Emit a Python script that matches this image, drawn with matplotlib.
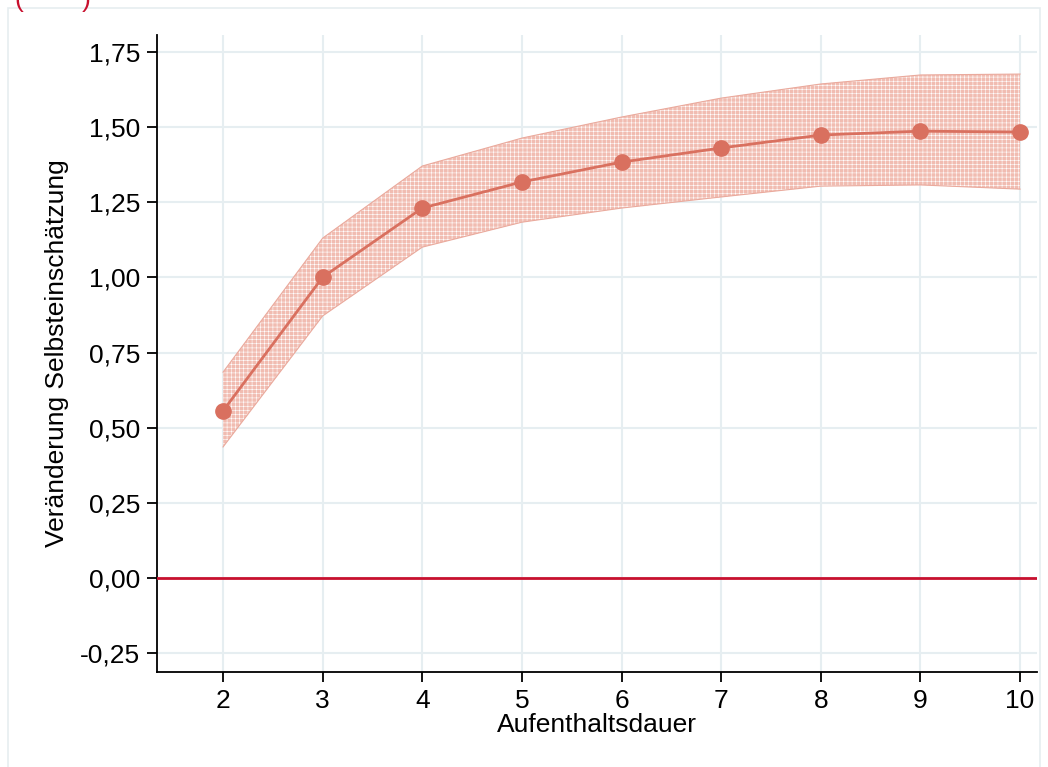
import matplotlib.pyplot as plt
from matplotlib.patches import Rectangle

plt.rcParams['font.family'] = ['Liberation Sans', 'DejaVu Sans']
plt.rcParams['hatch.linewidth'] = 0.4

dauer = [2, 3, 4, 5, 6, 7, 8, 9, 10]
effekt = [0.556, 1.001, 1.231, 1.318, 1.384, 1.431, 1.474, 1.487, 1.484]
ci_oben = [0.685, 1.131, 1.371, 1.464, 1.534, 1.597, 1.644, 1.674, 1.677]
ci_unten = [0.436, 0.872, 1.101, 1.184, 1.231, 1.268, 1.304, 1.308, 1.294]
y_ticks = [-0.25, 0, 0.25, 0.5, 0.75, 1.0, 1.25, 1.5, 1.75]
y_labels = ['-0,25', '0,00', '0,25', '0,50', '0,75', '1,00', '1,25', '1,50', '1,75']

col = '#d9705f'
fs = 19
fig = plt.figure(figsize=(10.48, 7.67), dpi=100)
fig.patches.append(Rectangle((8 / 1048, -0.1), 1032 / 1048, 1 - 8 / 767 + 0.1,
                             transform=fig.transFigure, fill=False,
                             edgecolor='#e6edf0', linewidth=1.2))
# cut-off title in the reference: only the lower ends of the brackets show
fig.text(14 / 1048, 1 - 6.5 / 767, '(', color='#c8102e', fontsize=fs, va='baseline')
fig.text(82 / 1048, 1 - 6.5 / 767, ')', color='#c8102e', fontsize=fs, va='baseline')

ax = fig.add_axes([157 / 1048, 1 - 672 / 767, 880 / 1048, 637 / 767])
ax.fill_between(dauer, ci_unten, ci_oben, facecolor='#f1bcb1',
                edgecolor='#ffffff', hatch='++++', linewidth=0, zorder=2)
ax.plot(dauer, ci_oben, color='#eaaa9d', linewidth=0.8, zorder=2)
ax.plot(dauer, ci_unten, color='#eaaa9d', linewidth=0.8, zorder=2)
ax.plot(dauer, effekt, color=col, linewidth=2, marker='o', markersize=11, zorder=4)
ax.axhline(0, color='#c8102e', linewidth=2, zorder=3)

ax.set_xlim(1.337, 10.17)
ax.set_ylim(-0.313, 1.807)
ax.set_xticks(dauer)
ax.set_yticks(y_ticks)
ax.set_yticklabels(y_labels)
ax.grid(True, color='#e6eef1', linewidth=1.5, zorder=0)
ax.set_axisbelow(True)
for s in ['top', 'right']:
    ax.spines[s].set_visible(False)
for s in ['left', 'bottom']:
    ax.spines[s].set_linewidth(1.3)
ax.tick_params(axis='both', labelsize=fs, length=7, width=1.3, pad=5)
ax.set_xlabel('Aufenthaltsdauer', fontsize=fs, labelpad=0)
ax.set_ylabel('Veränderung Selbsteinschätzung', fontsize=fs, labelpad=8)

fig.savefig('out.png', dpi=100)
